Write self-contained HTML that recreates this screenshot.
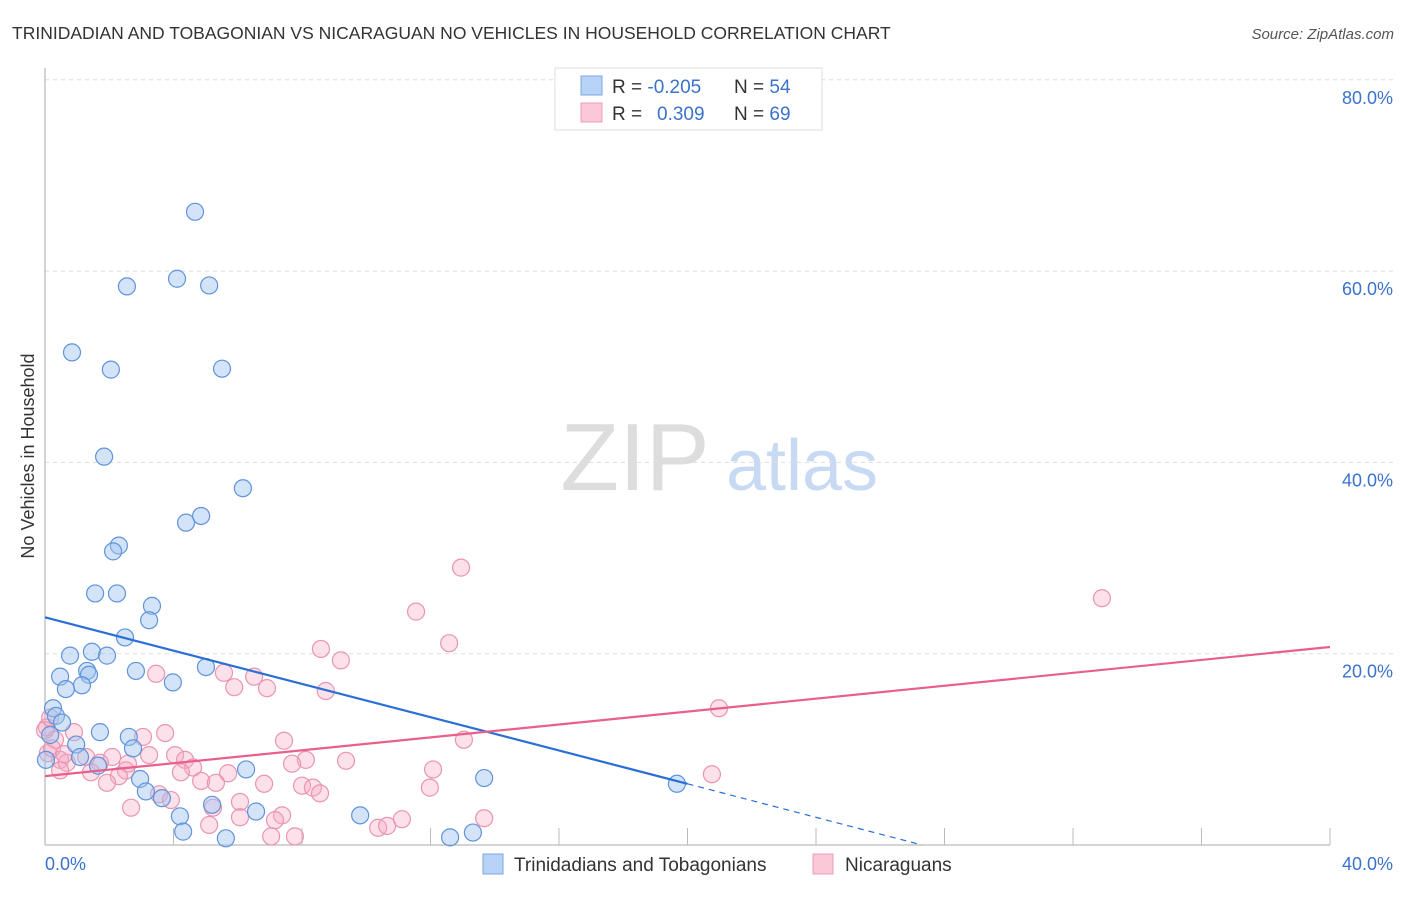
<!DOCTYPE html>
<html><head><meta charset="utf-8"><style>
body{margin:0;background:#fff;font-family:"Liberation Sans",sans-serif;}
svg text{font-family:"Liberation Sans",sans-serif;}
</style></head><body>
<svg id="c" width="1406" height="892" xmlns="http://www.w3.org/2000/svg">
<text x="12" y="39" font-size="17.5" fill="#333">TRINIDADIAN AND TOBAGONIAN VS NICARAGUAN NO VEHICLES IN HOUSEHOLD CORRELATION CHART</text>
<text x="1394" y="39" font-size="15" fill="#555" text-anchor="end" font-style="italic">Source: ZipAtlas.com</text>
<g>
<text x="635" y="490" font-size="96" fill="#ddd" text-anchor="middle" font-family="Liberation Serif,serif">ZIP</text>
<text x="802" y="490" font-size="72" fill="#c8daf3" text-anchor="middle">atlas</text>
</g>
<g id="grid"></g>
<g id="axes"></g>
<g id="pts"></g>
<g id="lines"></g>
<text transform="translate(34,456) rotate(-90)" font-size="18" fill="#333" text-anchor="middle">No Vehicles in Household</text>
<g>
<rect x="555" y="68" width="267" height="62" fill="#fff" stroke="#ddd"/>
<rect x="581" y="76" width="21" height="19" fill="#b8d3f5" stroke="#7aa8e6"/>
<rect x="581" y="103" width="21" height="19" fill="#fbc8d8" stroke="#ee9cb8"/>
<text x="612" y="93" font-size="19" fill="#333">R = <tspan fill="#3a72cc">-0.205</tspan><tspan x="734">N = </tspan><tspan fill="#3a72cc">54</tspan></text>
<text x="612" y="120" font-size="19" fill="#333">R = <tspan x="657" fill="#3a72cc">0.309</tspan><tspan x="734">N = </tspan><tspan fill="#3a72cc">69</tspan></text>
</g>
<g>
<rect x="483" y="854" width="20" height="20" fill="#b8d3f5" stroke="#7aa8e6"/>
<text x="514" y="871" font-size="19" fill="#333">Trinidadians and Tobagonians</text>
<rect x="813" y="854" width="20" height="20" fill="#fbc8d8" stroke="#ee9cb8"/>
<text x="845" y="871" font-size="19" fill="#333">Nicaraguans</text>
</g>
</svg>
<script>
const yTicks=[20,40,60,80];
const yTickLabels=["20.0%","40.0%","60.0%","80.0%"];
const xTickLabels=["0.0%","40.0%"];
const blueX=[4.67,4.11,2.55,5.11,0.84,2.05,5.51,1.84,6.16,4.86,4.39,2.30,2.12,1.56,2.24,3.33,3.24,2.49,0.78,1.46,1.93,5.01,2.83,1.31,1.37,0.47,3.98,1.15,0.65,0.25,0.34,0.53,1.71,2.61,0.97,2.74,1.09,1.65,0.03,6.26,13.67,19.67,2.96,3.14,3.64,5.20,6.57,4.20,9.81,4.30,5.63,12.61,13.32,0.16];
const blueY=[66.2,59.2,58.4,58.5,51.5,49.7,49.8,40.6,37.3,34.4,33.7,31.3,30.7,26.3,26.3,25.0,23.5,21.7,19.8,20.2,19.8,18.6,18.2,18.2,17.8,17.6,17.0,16.7,16.3,14.3,13.5,12.8,11.8,11.3,10.5,10.1,9.2,8.3,8.9,7.9,7.0,6.4,6.9,5.6,4.9,4.2,3.5,3.0,3.1,1.4,0.7,0.8,1.3,11.5];
const pinkX=[32.9,12.95,11.55,12.58,8.59,9.21,8.74,3.46,5.57,6.51,5.89,6.91,20.98,13.04,3.74,3.05,7.44,0.90,0.06,0.31,3.24,4.05,4.36,2.09,1.28,0.47,0.09,1.71,2.58,8.12,9.37,4.61,2.52,7.69,0.68,1.43,2.30,4.23,5.70,4.86,5.32,6.82,1.93,12.08,11.98,8.00,8.34,8.56,20.76,3.55,3.92,2.68,6.07,5.23,7.38,7.16,6.07,5.11,11.11,13.67,10.37,10.65,7.04,7.78,0.22,0.0,0.16,0.47,0.6];
const pinkY=[25.8,29.0,24.4,21.1,20.5,19.3,16.1,17.9,18.0,17.6,16.5,16.4,14.3,11.0,11.7,11.3,10.9,11.8,12.3,11.0,9.4,9.4,8.9,9.2,9.2,8.9,9.6,8.6,8.5,8.9,8.8,8.1,7.8,8.5,8.6,7.6,7.2,7.6,7.5,6.7,6.5,6.4,6.5,7.9,6.0,6.2,6.0,5.4,7.4,5.3,4.7,3.9,4.5,3.9,3.1,2.6,2.9,2.1,2.7,2.8,1.8,2.0,0.9,0.9,10.1,12.0,13.3,7.8,9.5];
const blueTrend=[[0,23.8],[20,6.4]];
const blueDash=[[20,6.4],[27.3,0]];
const pinkTrend=[[0,7.2],[40,20.7]];
const X0=45,X1=1330,Y0=845,PY=191.3/20;
const sx=v=>X0+(X1-X0)*v/40, sy=v=>Y0-v*PY;
const NS="http://www.w3.org/2000/svg";
function mk(t,a,p){const e=document.createElementNS(NS,t);for(const k in a)e.setAttribute(k,a[k]);p.appendChild(e);return e;}
const grid=document.getElementById('grid'),axes=document.getElementById('axes'),pts=document.getElementById('pts'),lines=document.getElementById('lines');
yTicks.forEach((v,i)=>{
 const l=mk('line',{x1:X0,x2:1394,y1:sy(v),y2:sy(v),stroke:'#ddd','stroke-dasharray':'4,4'},grid);
 
 
 const t=mk('text',{x:1393,y:sy(v)+24,'font-size':18,fill:'#3a72cc','text-anchor':'end'},axes);
 t.textContent=yTickLabels[i];
 
 
});
let ya=mk('line',{x1:X0,x2:X0,y1:68,y2:Y0,stroke:'#aaa'},axes);


let xa=mk('line',{x1:X0,x2:X1,y1:Y0,y2:Y0,stroke:'#aaa'},axes);


for(let i=1;i<=10;i++){const v=i*4;const tk=mk('line',{x1:sx(v),x2:sx(v),y1:Y0-17,y2:Y0,stroke:'#bbb'},axes);
 
 }
[[0,'start',45],[40,'end',1393]].forEach((d,i)=>{const t=mk('text',{x:d[2],y:870,'font-size':18,fill:'#3a72cc','text-anchor':d[1]},axes);t.textContent=xTickLabels[i];
 
 });
pinkX.forEach((x,i)=>{const c=mk('circle',{cx:sx(x),cy:sy(pinkY[i]),r:8.5,fill:'rgba(246,170,196,0.35)',stroke:'#ea94b2','stroke-width':1.2},pts);
 
 });
blueX.forEach((x,i)=>{const c=mk('circle',{cx:sx(x),cy:sy(blueY[i]),r:8.5,fill:'rgba(160,196,240,0.45)',stroke:'#5f93db','stroke-width':1.2},pts);
 
 });
function ln(p,st,dash,name){const l=mk('line',{x1:sx(p[0][0]),y1:sy(p[0][1]),x2:sx(p[1][0]),y2:sy(p[1][1]),stroke:st,'stroke-width':dash?1.2:2.2},lines);if(dash)l.setAttribute('stroke-dasharray','6,5');
 
 }
ln(blueTrend,'#2a6fd6',false,'trinidadian-trend-line');
ln(blueDash,'#2a6fd6',true,'trinidadian-trend-extension');
ln(pinkTrend,'#e8608a',false,'nicaraguan-trend-line');
</script>
</body></html>
